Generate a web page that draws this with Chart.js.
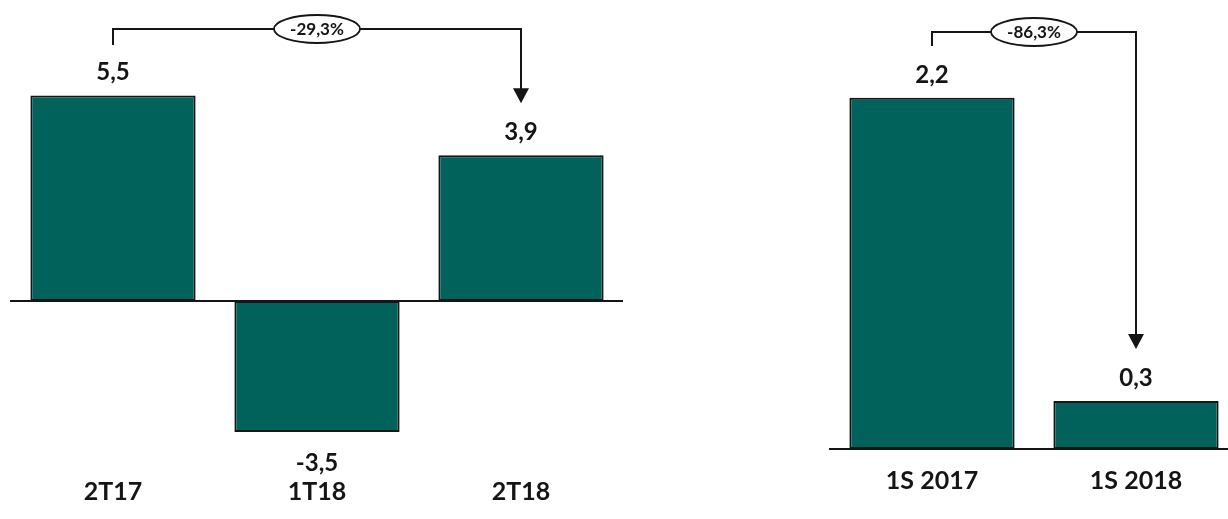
<!DOCTYPE html>
<html><head><meta charset="utf-8">
<script src="https://cdn.jsdelivr.net/npm/chart.js@4"></script>
<style>
html,body{margin:0;padding:0;background:#fff;overflow:hidden;width:1228px;height:519px;position:relative}
#c1{position:absolute;left:0;top:0;width:634px;height:519px}
#c2{position:absolute;left:828px;top:0;width:410px;height:519px}
</style></head><body>
<div id="c1"><canvas id="a"></canvas></div>
<div id="c2"><canvas id="b"></canvas></div>
<script>
const quarterLabels = ['2T17', '1T18', '2T18'];
const quarterValues = [5.5, -3.5, 3.9];
const quarterChange = '-29,3%';
const semesterLabels = ['1S 2017', '1S 2018'];
const semesterValues = [2.2, 0.3];
const semesterChange = '-86,3%';

const FONT = 'Lato, "Open Sans", sans-serif';
const BAR = '#00625A';
const INK = '#151515';

const fmt = v => v.toFixed(1).replace('.', ',');

const baselinePlugin = {
  id: 'baseline',
  beforeDatasetsDraw(chart, args, opts) {
    const {ctx, chartArea} = chart;
    const y0 = Math.round(chart.scales.y.getPixelForValue(0));
    ctx.save();
    ctx.strokeStyle = INK;
    ctx.lineWidth = 2;
    ctx.beginPath();
    ctx.moveTo(chartArea.left - (opts.extendLeft || 0), y0);
    ctx.lineTo(chartArea.right, y0);
    ctx.stroke();
    ctx.restore();
  }
};

const labelPlugin = {
  id: 'valueLabels',
  afterDatasetsDraw(chart) {
    const {ctx} = chart;
    const meta = chart.getDatasetMeta(0);
    const data = chart.data.datasets[0].data;
    ctx.save();
    ctx.fillStyle = INK;
    ctx.font = 'bold 24px ' + FONT;
    ctx.textAlign = 'center';
    ctx.textBaseline = 'middle';
    meta.data.forEach((el, i) => {
      const v = data[i];
      const y = v >= 0 ? el.y - 23 : el.y + 31;
      ctx.fillText(fmt(v), el.x, y);
    });
    ctx.restore();
  }
};

const bracketPlugin = {
  id: 'bracket',
  afterDatasetsDraw(chart, args, opts) {
    if (!opts || opts.text === undefined) return;
    const {ctx} = chart;
    const meta = chart.getDatasetMeta(0);
    const a = meta.data[opts.from], b = meta.data[opts.to];
    const x0 = Math.round(a.x), x1 = Math.round(b.x);
    const tip = b.y - opts.tipGap;
    const ly = opts.lineY;
    ctx.save();
    ctx.strokeStyle = INK;
    ctx.fillStyle = INK;
    ctx.lineWidth = 2;
    ctx.beginPath();
    ctx.moveTo(x0, opts.legY);
    ctx.lineTo(x0, ly);
    ctx.lineTo(x1, ly);
    ctx.lineTo(x1, tip - 14);
    ctx.stroke();
    ctx.beginPath();
    ctx.moveTo(x1 - 8, tip - 15);
    ctx.lineTo(x1 + 8, tip - 15);
    ctx.lineTo(x1, tip);
    ctx.closePath();
    ctx.fill();
    const cx = (x0 + x1) / 2;
    ctx.beginPath();
    ctx.ellipse(cx, ly, 43, 14, 0, 0, Math.PI * 2);
    ctx.fillStyle = '#fff';
    ctx.fill();
    ctx.lineWidth = 1.8;
    ctx.stroke();
    ctx.fillStyle = INK;
    ctx.font = 'bold 17px ' + FONT;
    ctx.textAlign = 'center';
    ctx.textBaseline = 'middle';
    ctx.fillText(opts.text, cx, ly + 1);
    ctx.restore();
  }
};

function makeChart(id, labels, values, cfg) {
  return new Chart(document.getElementById(id), {
    type: 'bar',
    data: {
      labels: labels,
      datasets: [{
        data: values,
        backgroundColor: BAR,
        borderColor: INK,
        borderWidth: 2,
        borderSkipped: false,
        barPercentage: 0.81,
        categoryPercentage: 1.0
      }]
    },
    options: {
      responsive: true,
      maintainAspectRatio: false,
      animation: false,
      layout: {padding: cfg.padding},
      plugins: {
        legend: {display: false},
        tooltip: {enabled: false},
        baseline: {extendLeft: cfg.extendLeft},
        bracket: cfg.bracket
      },
      scales: {
        x: {
          grid: {display: false, drawTicks: false},
          border: {display: false},
          ticks: {
            color: INK,
            font: {family: FONT, size: 25, weight: 'bold'},
            padding: cfg.tickPad,
            maxRotation: 0
          }
        },
        y: {
          display: false,
          min: cfg.min,
          max: cfg.max
        }
      }
    },
    plugins: [baselinePlugin, labelPlugin, bracketPlugin]
  });
}

makeChart('a', quarterLabels, quarterValues, {
  padding: {top: 47, bottom: 7.6, left: 11, right: 11},
  min: -4.6, max: 6.8, tickPad: 4.2, extendLeft: 1,
  bracket: {from: 0, to: 2, text: quarterChange, lineY: 29, legY: 45, tipGap: 52}
});

makeChart('b', semesterLabels, semesterValues, {
  padding: {top: 34, bottom: 5.2, left: 2, right: 0},
  min: 0, max: 2.6, tickPad: 17.4, extendLeft: 1,
  bracket: {from: 0, to: 1, text: semesterChange, lineY: 32, legY: 46, tipGap: 52}
});
</script>
</body></html>
